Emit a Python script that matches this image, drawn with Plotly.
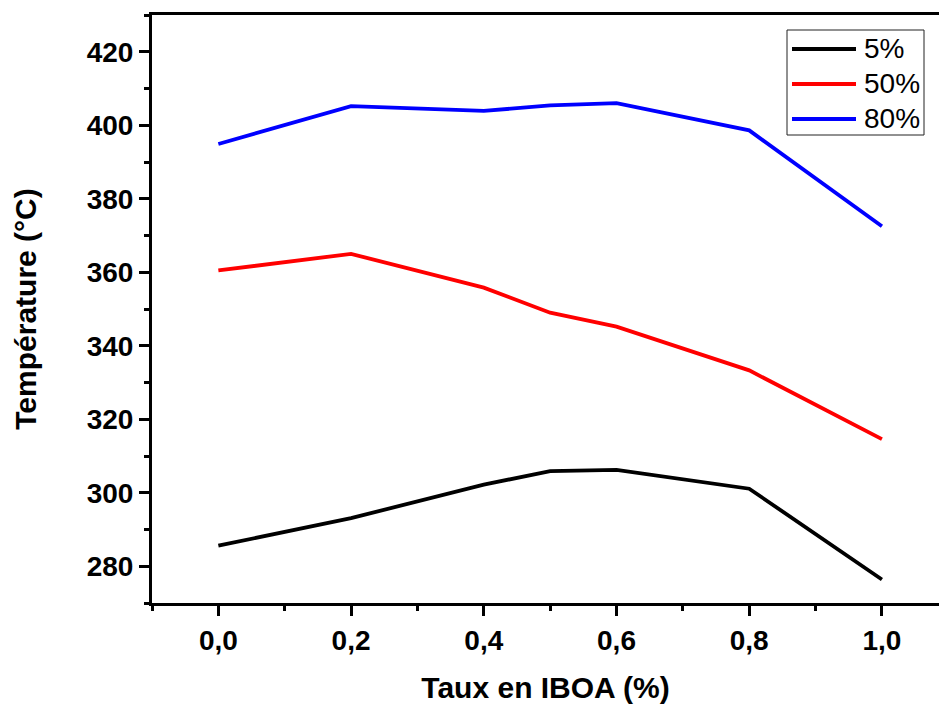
import plotly.graph_objects as go

# IBOA content (%) and decomposition temperatures (°C) at each mass-loss level
taux_iboa = [0.0, 0.2, 0.4, 0.5, 0.6, 0.8, 1.0]
temp_5 = [285.6, 293.1, 302.2, 305.9, 306.2, 301.1, 276.4]
temp_50 = [360.5, 365.0, 355.8, 349.0, 345.2, 333.3, 314.6]
temp_80 = [394.9, 405.2, 403.9, 405.4, 406.0, 398.6, 372.5]

series_names = ["5%", "50%", "80%"]
series_values = [temp_5, temp_50, temp_80]
series_colors = ["#000000", "#ff0000", "#0000ff"]

x_ticks = [0.0, 0.2, 0.4, 0.6, 0.8, 1.0]
y_ticks = [280, 300, 320, 340, 360, 380, 400, 420]

W, H = 939, 704
M_L, M_R, M_T, M_B = 152, 0, 15, 101
PW, PH = W - M_L - M_R, H - M_T - M_B


def px_x(p):
    """Pixel column -> paper x."""
    return (p - M_L) / PW


def px_y(p):
    """Pixel row -> paper y."""
    return (H - M_B - p) / PH


fig = go.Figure()
for name, vals, col in zip(series_names, series_values, series_colors):
    fig.add_trace(go.Scatter(x=taux_iboa, y=vals, mode="lines", name=name,
                             line=dict(color=col, width=3.8), showlegend=False))

font_fam = "Arial, Liberation Sans, sans-serif"

# Boxed legend in the upper-right corner
shapes = [dict(type="rect", xref="paper", yref="paper",
               x0=px_x(787), x1=px_x(924), y0=px_y(135), y1=px_y(30),
               line=dict(color="#222222", width=1), fillcolor="white", layer="above")]
annotations = []
for i, (name, col) in enumerate(zip(series_names, series_colors)):
    row = 49 + i * 35
    shapes.append(dict(type="line", xref="paper", yref="paper",
                       x0=px_x(792), x1=px_x(856), y0=px_y(row), y1=px_y(row),
                       line=dict(color=col, width=4), layer="above"))
    annotations.append(dict(xref="paper", yref="paper", x=px_x(862), y=px_y(row),
                            xanchor="left", yanchor="middle", showarrow=False,
                            text=name, font=dict(family=font_fam, size=28, color="black")))

fig.update_layout(
    width=W, height=H,
    margin=dict(l=M_L, r=M_R, t=M_T, b=M_B),
    plot_bgcolor="white", paper_bgcolor="white",
    separators=",.",
    showlegend=False,
    shapes=shapes,
    annotations=annotations,
)

fig.update_xaxes(
    range=[-0.1, 1.086], tickvals=x_ticks, tickformat=".1f",
    showgrid=False, zeroline=False,
    showline=True, linecolor="black", linewidth=3, mirror=True,
    ticks="outside", ticklen=10, tickwidth=3, tickcolor="black",
    minor=dict(dtick=0.1, tick0=0, ticks="outside", ticklen=5, tickwidth=3, tickcolor="black"),
    tickfont=dict(family=font_fam, size=28, color="black", weight="bold"),
    title=dict(text="Taux en IBOA (%)", standoff=28,
               font=dict(family=font_fam, size=30, color="black", weight="bold")),
)

fig.update_yaxes(
    range=[270, 430], tickvals=y_ticks,
    showgrid=False, zeroline=False,
    showline=True, linecolor="black", linewidth=3, mirror=False,
    ticks="outside", ticklen=10, tickwidth=3, tickcolor="black",
    minor=dict(dtick=10, tick0=270, ticks="outside", ticklen=5, tickwidth=3, tickcolor="black"),
    tickfont=dict(family=font_fam, size=28, color="black", weight="bold"),
    title=dict(text="Température (°C)", standoff=42,
               font=dict(family=font_fam, size=30, color="black", weight="bold")),
)

fig.write_html("out.html")
